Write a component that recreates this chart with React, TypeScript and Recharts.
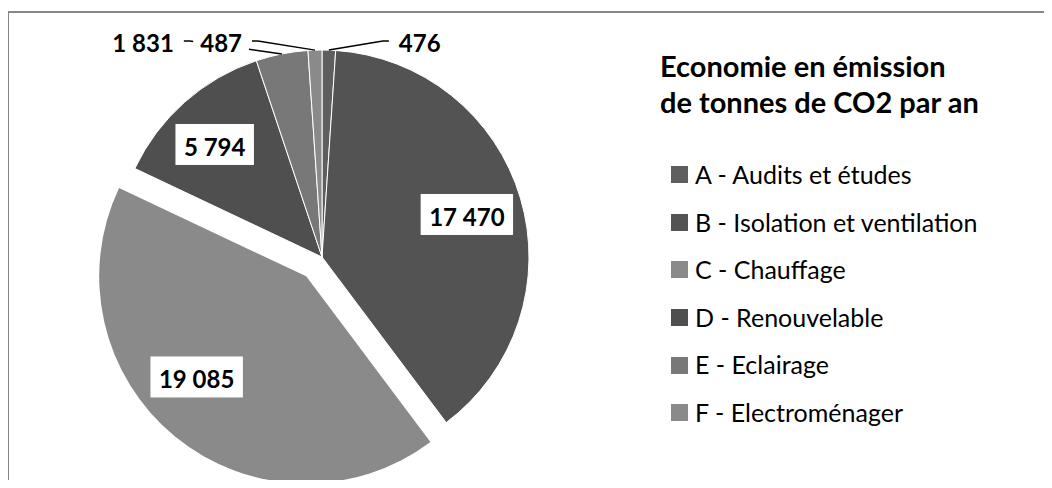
import { PieChart, Pie, Cell, Legend } from 'recharts';

const CATEGORIES = [
  'A - Audits et études',
  'B - Isolation et ventilation',
  'C - Chauffage',
  'D - Renouvelable',
  'E - Eclairage',
  'F - Electroménager',
];
const VALUES = [476, 17470, 19085, 5794, 1831, 487];
const COLORS = ['#5e5e5e', '#535353', '#8a8a8a', '#4f4f4f', '#787878', '#8a8a8a'];
const TITLE_LINES = ['Economie en émission', 'de tonnes de CO2 par an'];

// the slice pulled out of the pie
const EXPLODED = 2;

const FONT = 'Lato, "Open Sans", sans-serif';
const RAD = Math.PI / 180;
const CX = 322;
const CY = 257;
const R = 207;
const EXPLODE = 25;
const NUM_SIZE = 24;

// label layout tweaks (Excel "best fit" positions)
const LABEL_NUDGE: Record<number, [number, number]> = { 2: [-14, -17], 3: [-7, 0] };
const LEADER_DX: Record<number, number> = { 0: 54, 4: -92, 5: -57 };

const data = CATEGORIES.map((name, i) => ({ name, value: VALUES[i] }));
const total = VALUES.reduce((a, b) => a + b, 0);
const before = VALUES.slice(0, EXPLODED).reduce((a, b) => a + b, 0);
const explodeMid = ((before + VALUES[EXPLODED] / 2) / total) * 360;
const EX = EXPLODE * Math.sin(explodeMid * RAD);
const EY = -EXPLODE * Math.cos(explodeMid * RAD);

const fmt = (v: number) => String(v).replace(/\B(?=(\d{3})+(?!\d))/g, ' ');
const textWidth = (s: string) =>
  s.split('').reduce((w, ch) => w + (ch === ' ' ? 0.2 : 0.58) * NUM_SIZE, 0);

const makeLabel = (exploded: boolean) => (props: any) => {
  const { cx, cy, midAngle, outerRadius, index, value } = props;
  if ((index === EXPLODED) !== exploded) return null;
  const txt = fmt(value);
  const w = textWidth(txt);
  const cos = Math.cos(-midAngle * RAD);
  const sin = Math.sin(-midAngle * RAD);

  if (value / total > 0.05) {
    const [nx, ny] = LABEL_NUDGE[index] || [0, 0];
    const x = cx + outerRadius * 0.73 * cos + nx;
    const y = cy + outerRadius * 0.73 * sin + ny;
    return (
      <g key={`lbl-${index}`}>
        <rect x={x - w / 2 - 9} y={y - 20} width={w + 18} height={41} fill="#fff" />
        <text x={x} y={y + 12} textAnchor="middle" fontFamily={FONT} fontWeight={700} fontSize={NUM_SIZE} fill="#000">
          {txt}
        </text>
      </g>
    );
  }

  const sx = cx + outerRadius * cos;
  const sy = cy + outerRadius * sin;
  const dx = LEADER_DX[index] ?? 40;
  const dir = dx >= 0 ? 1 : -1;
  const ey = cy - outerRadius - 9;
  const elbowX = sx + dx;
  const endX = elbowX + dir * 6;
  const tx = endX + dir * 10;
  const boxX = dir > 0 ? tx - 7 : tx - w - 7;
  return (
    <g key={`lbl-${index}`}>
      <polyline points={`${sx},${sy} ${elbowX},${ey} ${endX},${ey}`} fill="none" stroke="#000" strokeWidth={1.5} />
      <rect x={boxX} y={ey - 12} width={w + 14} height={28} fill="#fff" />
      <text x={tx} y={ey + 11} textAnchor={dir > 0 ? 'start' : 'end'} fontFamily={FONT} fontWeight={700} fontSize={NUM_SIZE} fill="#000">
        {txt}
      </text>
    </g>
  );
};

const renderLegend = () => (
  <div style={{ fontFamily: FONT, color: '#000', whiteSpace: 'nowrap' }}>
    <div style={{ fontWeight: 700, fontSize: 29, lineHeight: '36px' }}>
      {TITLE_LINES[0]}
      <br />
      {TITLE_LINES[1]}
    </div>
    <div style={{ marginTop: 31, paddingLeft: 11 }}>
      {CATEGORIES.map((c, i) => (
        <div key={c} style={{ display: 'flex', alignItems: 'center', height: 47.6 }}>
          <span style={{ display: 'inline-block', width: 17, height: 17, background: COLORS[i], marginRight: 7 }} />
          <span style={{ fontSize: 25, lineHeight: '47.6px' }}>{c}</span>
        </div>
      ))}
    </div>
  </div>
);

export default function App() {
  return (
    <div style={{ margin: -8, width: 1052, height: 488, position: 'relative', overflow: 'hidden', background: '#fff' }}>
      <div
        style={{
          position: 'absolute',
          left: 7,
          top: 11,
          width: 1045,
          height: 477,
          borderLeft: '2px solid #878787',
          borderTop: '2px solid #878787',
          boxSizing: 'border-box',
        }}
      />
      <PieChart width={1052} height={488} margin={{ top: 0, right: 0, bottom: 0, left: 0 }} style={{ position: 'absolute', left: 0, top: 0 }}>
        <Pie
          data={data}
          dataKey="value"
          nameKey="name"
          cx={CX}
          cy={CY}
          outerRadius={R}
          startAngle={90}
          endAngle={-270}
          stroke="#fff"
          strokeWidth={1}
          label={makeLabel(false)}
          labelLine={false}
          isAnimationActive={false}
        >
          {data.map((d, i) => (
            <Cell key={d.name} fill={i === EXPLODED ? 'transparent' : COLORS[i]} stroke={i === EXPLODED ? 'none' : '#fff'} />
          ))}
        </Pie>
        <Pie
          data={data}
          dataKey="value"
          nameKey="name"
          cx={CX + EX}
          cy={CY + EY}
          outerRadius={R}
          startAngle={90}
          endAngle={-270}
          label={makeLabel(true)}
          labelLine={false}
          legendType="none"
          isAnimationActive={false}
        >
          {data.map((d, i) => (
            <Cell key={d.name} fill={i === EXPLODED ? COLORS[i] : 'transparent'} stroke="none" />
          ))}
        </Pie>
        <Legend
          layout="vertical"
          align="right"
          verticalAlign="middle"
          content={renderLegend}
          wrapperStyle={{ left: 660, top: 48, width: 390 }}
        />
      </PieChart>
    </div>
  );
}
